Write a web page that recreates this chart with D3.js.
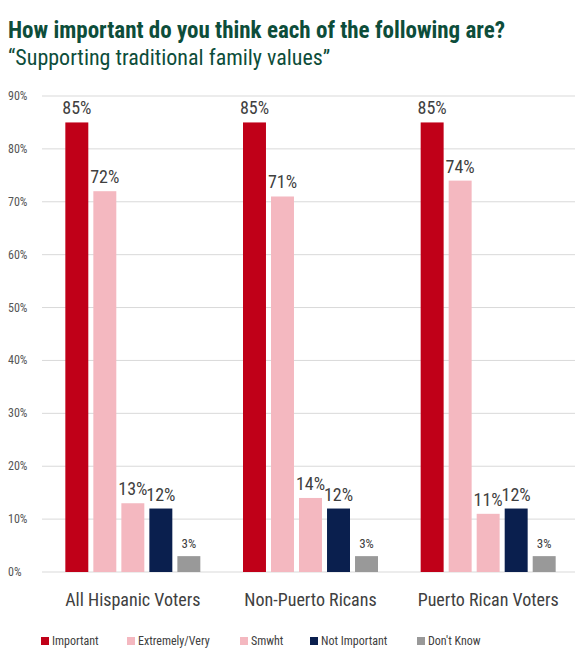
<!DOCTYPE html>
<html><head><meta charset="utf-8">
<script src="https://cdn.jsdelivr.net/npm/d3@7"></script>
<style>body{margin:0;background:#fff}text{font-family:"Liberation Sans Narrow","Roboto Condensed",Roboto,sans-serif}</style>
</head><body><svg id="c" width="583" height="671"></svg>
<script>
var groups = ["All Hispanic Voters", "Non-Puerto Ricans", "Puerto Rican Voters"];
var series = ["Important", "Extremely/Very", "Smwht", "Not Important", "Don't Know"];
var colors = ["#c00018", "#f4b8c0", "#f4b8c0", "#0a1f4e", "#999999"];
var important = [85, 85, 85];
var extremely = [72, 71, 74];
var smwht = [13, 14, 11];
var notImportant = [12, 12, 12];
var dontKnow = [3, 3, 3];
var ticks = [0, 10, 20, 30, 40, 50, 60, 70, 80, 90];
var values = [important, extremely, smwht, notImportant, dontKnow];

var svg = d3.select("#c");
svg.append("text").attr("x", 8).attr("y", 38).attr("fill", "#0d4d3a")
  .attr("font-size", 23).attr("font-weight", "bold").text("How important do you think each of the following are?");
svg.append("text").attr("x", 8).attr("y", 65).attr("fill", "#0d4d3a")
  .attr("font-size", 22).text("\u201cSupporting traditional family values\u201d");

var y = d3.scaleLinear().domain([0, 90]).range([572, 96]);
var x0 = d3.scaleBand().domain(groups).range([42, 575]);
var x1 = d3.scaleBand().domain(series).range([0, 135]).paddingInner(0.18);

svg.append("g").selectAll("line").data(ticks).join("line")
  .attr("x1", 42).attr("x2", 575).attr("y1", d => y(d)).attr("y2", d => y(d))
  .attr("stroke", "#d9d9d9");
svg.append("g").selectAll("text").data(ticks).join("text")
  .attr("x", 8).attr("y", d => y(d) + 4).attr("font-size", 12).attr("fill", "#555")
  .text(d => d + "%");

groups.forEach(function (g, gi) {
  var off = x0(g) + (x0.bandwidth() - 135) / 2 + 2;
  var gg = svg.append("g").attr("transform", "translate(" + off + ",0)");
  series.forEach(function (s, si) {
    var v = values[si][gi];
    gg.append("rect").attr("x", x1(s)).attr("width", x1.bandwidth())
      .attr("y", y(v)).attr("height", y(0) - y(v)).attr("fill", colors[si]);
    gg.append("text").attr("x", x1(s) + x1.bandwidth() / 2).attr("y", y(v) - 8)
      .attr("text-anchor", "middle").attr("fill", "#404040")
      .attr("font-size", si == 4 ? 13 : 18).text(v + "%");
  });
  svg.append("text").attr("x", x0(g) + x0.bandwidth() / 2 + 2).attr("y", 606)
    .attr("text-anchor", "middle").attr("font-size", 18).attr("fill", "#404040").text(g);
});

var lx = [41, 127, 240, 310, 417];
series.forEach(function (s, i) {
  svg.append("rect").attr("x", lx[i]).attr("y", 637).attr("width", 8).attr("height", 8).attr("fill", colors[i]);
  svg.append("text").attr("x", lx[i] + 11).attr("y", 645).attr("font-size", 12).attr("fill", "#404040").text(s);
});
</script></body></html>
